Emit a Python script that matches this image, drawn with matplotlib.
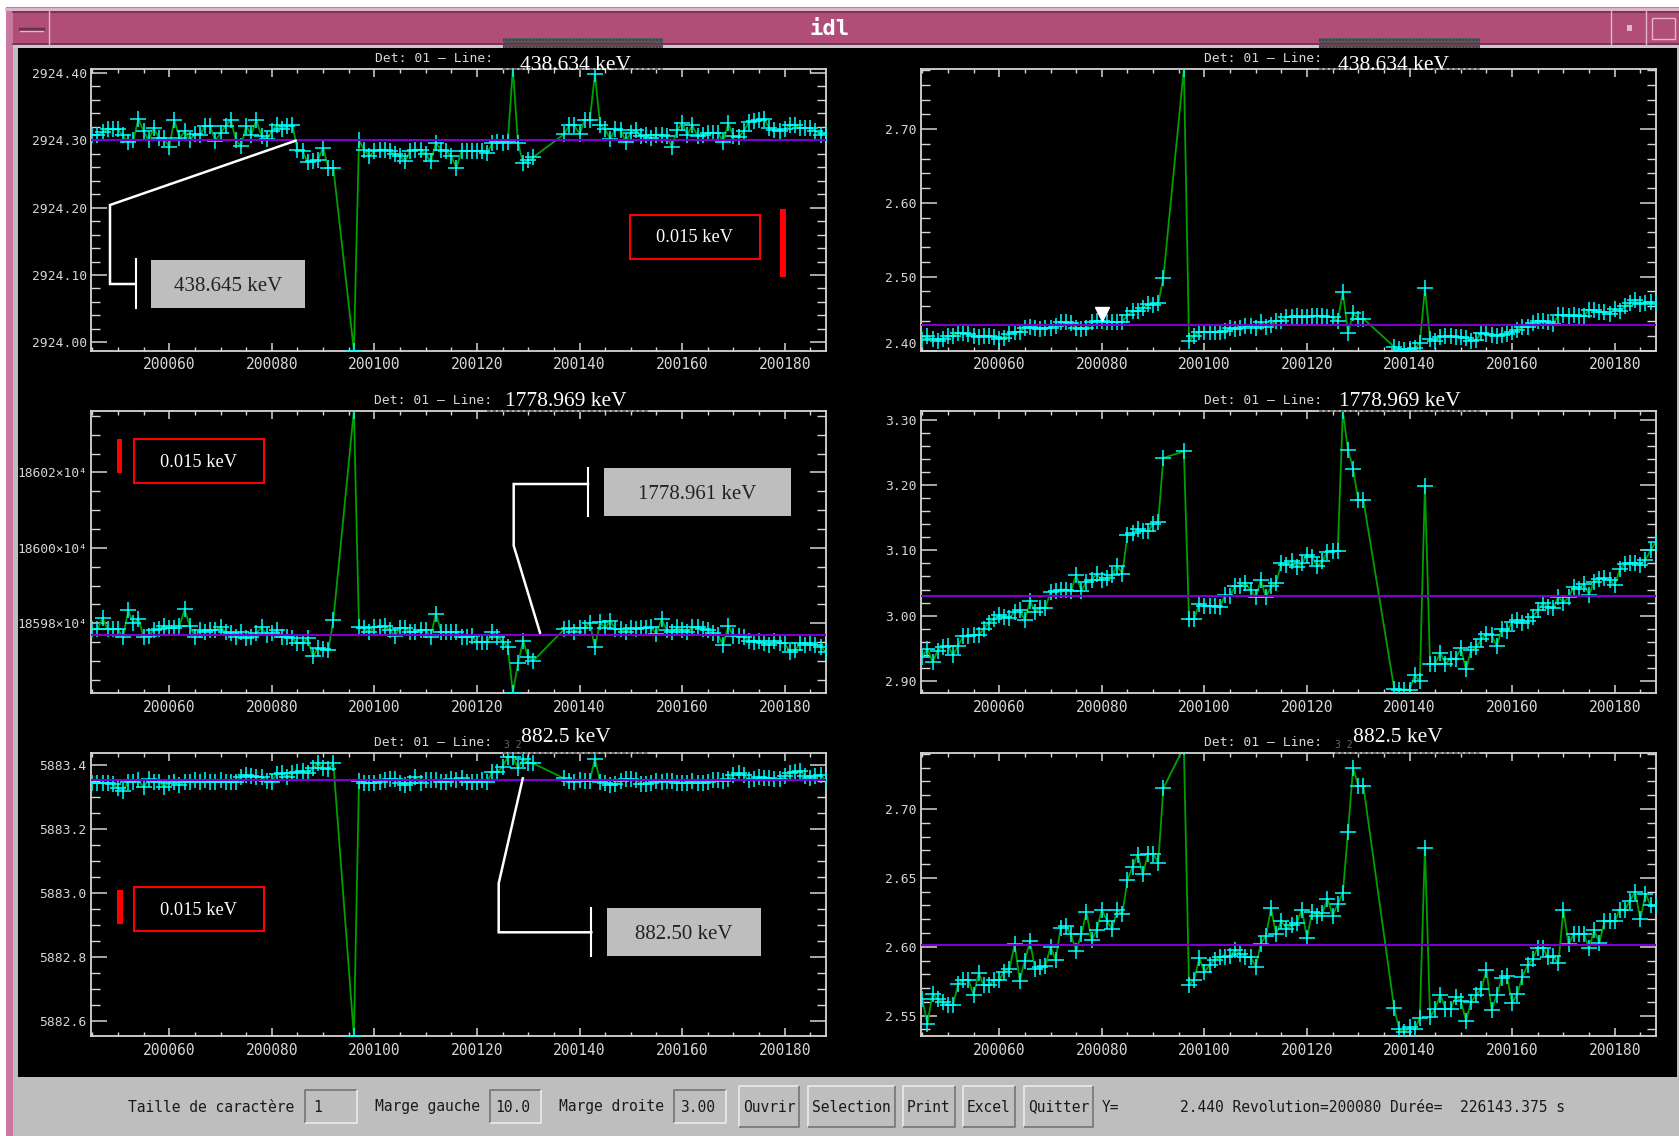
import matplotlib
matplotlib.use('Agg')
import matplotlib.pyplot as plt
from matplotlib.patches import Rectangle
from matplotlib.ticker import MultipleLocator

W, H = 1679, 1136

# Revolutions with a measurement (gaps at 93-95 and 132-136)
revs = list(range(200045, 200093)) + [200096] + list(range(200097, 200132)) + list(range(200137, 200189))

# left column: fitted position
pos_438 = [
    2924.308, 2924.307, 2924.312, 2924.316, 2924.316, 2924.316, 2924.307, 2924.297, 2924.300, 2924.332,
    2924.313, 2924.300, 2924.318, 2924.303, 2924.303, 2924.290, 2924.330, 2924.303, 2924.313, 2924.300,
    2924.309, 2924.308, 2924.321, 2924.321, 2924.299, 2924.311, 2924.321, 2924.330, 2924.300, 2924.291,
    2924.321, 2924.308, 2924.330, 2924.306, 2924.302, 2924.313, 2924.323, 2924.316, 2924.321, 2924.323,
    2924.286, 2924.284, 2924.267, 2924.269, 2924.271, 2924.289, 2924.259, 2924.259,
    2923.988,
    2924.300, 2924.286, 2924.276, 2924.284, 2924.286, 2924.286, 2924.284, 2924.279, 2924.276, 2924.269,
    2924.284, 2924.286, 2924.286, 2924.279, 2924.269, 2924.296, 2924.286, 2924.284, 2924.276, 2924.259,
    2924.284, 2924.284, 2924.284, 2924.284, 2924.284, 2924.281, 2924.296, 2924.297, 2924.296, 2924.298,
    2924.406, 2924.296, 2924.266, 2924.270, 2924.275,
    2924.309, 2924.322, 2924.322, 2924.309, 2924.330, 2924.330, 2924.398, 2924.323, 2924.316, 2924.302,
    2924.316, 2924.315, 2924.298, 2924.311, 2924.315, 2924.306, 2924.307, 2924.303, 2924.307, 2924.308,
    2924.306, 2924.290, 2924.315, 2924.325, 2924.308, 2924.322, 2924.306, 2924.307, 2924.311, 2924.311,
    2924.311, 2924.298, 2924.325, 2924.306, 2924.305, 2924.313, 2924.327, 2924.328, 2924.330, 2924.331,
    2924.318, 2924.315, 2924.313, 2924.316, 2924.322, 2924.322, 2924.318, 2924.318, 2924.318, 2924.313, 2924.308, 2924.311,
]
pos_1778 = [
    18597.84, 18597.84, 18598.13, 18597.84, 18597.84, 18597.84, 18597.63, 18598.34, 18598.00, 18598.11,
    18597.65, 18597.66, 18597.82, 18597.84, 18597.93, 18597.87, 18597.87, 18597.93, 18598.37, 18597.93,
    18597.65, 18597.81, 18597.78, 18597.81, 18597.81, 18597.89, 18597.78, 18597.74, 18597.63, 18597.78,
    18597.60, 18597.63, 18597.74, 18597.89, 18597.69, 18597.74, 18597.81, 18597.65, 18597.65, 18597.60,
    18597.47, 18597.47, 18597.60, 18597.12, 18597.34, 18597.31, 18597.28, 18598.09,
    18603.64,
    18597.89, 18597.87, 18597.76, 18597.89, 18597.91, 18597.93, 18597.82, 18597.66, 18597.87, 18597.87,
    18597.76, 18597.78, 18597.82, 18597.81, 18597.65, 18598.26, 18597.78, 18597.76, 18597.76, 18597.76,
    18597.65, 18597.65, 18597.66, 18597.51, 18597.51, 18597.51, 18597.78, 18597.63, 18597.51, 18597.38,
    18596.16, 18596.94, 18597.54, 18597.10, 18597.01,
    18597.84, 18597.87, 18597.78, 18597.87, 18597.87, 18598.02, 18597.36, 18598.03, 18597.87, 18598.07,
    18597.84, 18597.84, 18597.78, 18597.87, 18597.84, 18597.87, 18597.87, 18597.89, 18597.72, 18598.11,
    18597.81, 18597.76, 18597.89, 18597.81, 18597.76, 18597.89, 18597.89, 18597.84, 18597.82, 18597.74,
    18597.69, 18597.43, 18597.93, 18597.66, 18597.66, 18597.65, 18597.54, 18597.51, 18597.54, 18597.47,
    18597.43, 18597.54, 18597.47, 18597.47, 18597.25, 18597.28, 18597.47, 18597.43, 18597.47, 18597.43, 18597.38, 18597.25,
]
pos_882 = [
    5883.345, 5883.343, 5883.343, 5883.345, 5883.341, 5883.327, 5883.320, 5883.348, 5883.348, 5883.353,
    5883.330, 5883.355, 5883.348, 5883.348, 5883.332, 5883.345, 5883.348, 5883.338, 5883.348, 5883.348,
    5883.353, 5883.348, 5883.353, 5883.348, 5883.348, 5883.353, 5883.348, 5883.348, 5883.348, 5883.364,
    5883.369, 5883.366, 5883.364, 5883.364, 5883.351, 5883.348, 5883.372, 5883.374, 5883.364, 5883.374,
    5883.379, 5883.382, 5883.374, 5883.390, 5883.405, 5883.390, 5883.387, 5883.405,
    5882.554,
    5883.351, 5883.343, 5883.343, 5883.345, 5883.348, 5883.353, 5883.355, 5883.355, 5883.345, 5883.338,
    5883.343, 5883.361, 5883.343, 5883.353, 5883.353, 5883.353, 5883.348, 5883.348, 5883.355, 5883.353,
    5883.358, 5883.348, 5883.348, 5883.348, 5883.353, 5883.348, 5883.379, 5883.379, 5883.395, 5883.425,
    5883.426, 5883.390, 5883.420, 5883.405, 5883.405,
    5883.358, 5883.351, 5883.348, 5883.353, 5883.350, 5883.351, 5883.420, 5883.348, 5883.345, 5883.336,
    5883.340, 5883.350, 5883.355, 5883.355, 5883.352, 5883.342, 5883.342, 5883.345, 5883.350, 5883.348,
    5883.350, 5883.350, 5883.345, 5883.345, 5883.345, 5883.350, 5883.345, 5883.345, 5883.348, 5883.352,
    5883.352, 5883.350, 5883.356, 5883.370, 5883.375, 5883.370, 5883.353, 5883.355, 5883.362, 5883.360,
    5883.358, 5883.355, 5883.355, 5883.365, 5883.376, 5883.378, 5883.382, 5883.365, 5883.360, 5883.365, 5883.368, 5883.352,
]

# right column: fitted width
fwhm_438 = [
    2.4145, 2.419, 2.415, 2.413, 2.416, 2.419, 2.420, 2.424, 2.424, 2.422,
    2.419, 2.418, 2.420, 2.420, 2.418, 2.416, 2.417, 2.423, 2.425, 2.425,
    2.431, 2.432, 2.430, 2.429, 2.430, 2.431, 2.433, 2.438, 2.439, 2.437,
    2.430, 2.429, 2.430, 2.438, 2.440, 2.440, 2.438, 2.439, 2.438, 2.439,
    2.448, 2.453, 2.454, 2.457, 2.463, 2.462, 2.464, 2.4985,
    2.782,
    2.4135, 2.420, 2.425, 2.425, 2.425, 2.425, 2.425, 2.427, 2.430, 2.429,
    2.430, 2.433, 2.433, 2.431, 2.439, 2.432, 2.435, 2.440, 2.440, 2.445,
    2.446, 2.447, 2.445, 2.446, 2.447, 2.447, 2.447, 2.446, 2.445, 2.440,
    2.4797, 2.4234, 2.4505, 2.443, 2.443,
    2.405, 2.402, 2.401, 2.402, 2.403, 2.410, 2.484, 2.415, 2.413, 2.418,
    2.419, 2.419, 2.418, 2.418, 2.417, 2.413, 2.414, 2.424, 2.423, 2.421,
    2.420, 2.421, 2.423, 2.425, 2.428, 2.432, 2.432, 2.437, 2.440, 2.440,
    2.439, 2.436, 2.448, 2.448, 2.447, 2.448, 2.447, 2.447, 2.455, 2.455,
    2.452, 2.452, 2.450, 2.456, 2.453, 2.460, 2.465, 2.468, 2.463, 2.465, 2.466, 2.463,
]
fwhm_1778 = [
    2.937, 2.949, 2.929, 2.946, 2.952, 2.954, 2.939, 2.954, 2.968, 2.968,
    2.970, 2.970, 2.980, 2.989, 2.995, 3.0005, 2.998, 2.997, 3.006, 3.008,
    2.993, 3.0225, 3.006, 3.012, 3.012, 3.036, 3.038, 3.040, 3.040, 3.038,
    3.062, 3.038, 3.052, 3.054, 3.0645, 3.054, 3.058, 3.062, 3.076, 3.0645,
    3.123, 3.126, 3.1325, 3.130, 3.130, 3.140, 3.1437, 3.242,
    3.252,
    2.995, 2.995, 3.018, 3.014, 3.014, 3.014, 3.013, 3.031, 3.030, 3.045,
    3.046, 3.050, 3.039, 3.028, 3.054, 3.028, 3.045, 3.050, 3.080, 3.077,
    3.083, 3.075, 3.080, 3.0925, 3.090, 3.076, 3.083, 3.098, 3.099, 3.099,
    3.314, 3.2537, 3.2255, 3.177, 3.177,
    2.888, 2.8865, 2.8865, 2.8865, 2.9084, 2.899, 3.199, 2.925, 2.926, 2.943,
    2.926, 2.934, 2.934, 2.950, 2.9176, 2.947, 2.951, 2.964, 2.972, 2.970,
    2.953, 2.980, 2.976, 2.990, 2.993, 2.988, 2.992, 2.998, 3.008, 3.020,
    3.013, 3.011, 3.029, 3.020, 3.028, 3.044, 3.041, 3.049, 3.032, 3.052,
    3.056, 3.057, 3.054, 3.0465, 3.071, 3.079, 3.080, 3.081, 3.077, 3.086, 3.100, 3.113,
]
fwhm_882 = [
    2.5623, 2.544, 2.566, 2.562, 2.560, 2.558, 2.558, 2.573, 2.576, 2.576,
    2.565, 2.581, 2.572, 2.572, 2.576, 2.576, 2.582, 2.584, 2.602, 2.5755,
    2.590, 2.604, 2.584, 2.585, 2.586, 2.600, 2.5905, 2.614, 2.615, 2.609,
    2.597, 2.609, 2.625, 2.605, 2.612, 2.627, 2.619, 2.613, 2.627, 2.6235,
    2.6486, 2.658, 2.667, 2.6525, 2.6675, 2.6675, 2.661, 2.715,
    2.745,
    2.5724, 2.576, 2.592, 2.5816, 2.5865, 2.5906, 2.5925, 2.5925, 2.593, 2.598,
    2.5945, 2.5925, 2.5925, 2.5857, 2.602, 2.608, 2.628, 2.609, 2.619, 2.613,
    2.6155, 2.617, 2.627, 2.6065, 2.625, 2.6227, 2.6245, 2.635, 2.6227, 2.631,
    2.639, 2.6836, 2.730, 2.7167, 2.7167,
    2.5555, 2.540, 2.538, 2.5417, 2.540, 2.5485, 2.672, 2.549, 2.555, 2.5654,
    2.555, 2.555, 2.5635, 2.561, 2.5465, 2.560, 2.565, 2.5695, 2.583, 2.554,
    2.565, 2.5775, 2.5785, 2.559, 2.566, 2.578, 2.5865, 2.591, 2.5993, 2.599,
    2.5925, 2.593, 2.588, 2.627, 2.6017, 2.609, 2.6095, 2.609, 2.599, 2.612,
    2.603, 2.6184, 2.6184, 2.6184, 2.627, 2.627, 2.6336, 2.640, 2.620, 2.6385, 2.630, 2.6295,
]

x_ticks = [200060, 200080, 200100, 200120, 200140, 200160, 200180]
x_limits = (200044.75, 200188.05)

# panels: pixel box, data, y range, mean line, y ticks, labels, minor step
panels = [
    dict(box=(91, 68.5, 826, 350.5), y=pos_438, ylim=(2923.988, 2924.4064), mean=2924.301,
         ticks=[2924.0, 2924.1, 2924.2, 2924.3, 2924.4],
         labels=['2924.00', '2924.10', '2924.20', '2924.30', '2924.40'], minor=0.02),
    dict(box=(921, 68.5, 1656, 350.5), y=fwhm_438, ylim=(2.40, 2.782), mean=2.435,
         ticks=[2.4, 2.5, 2.6, 2.7], labels=['2.40', '2.50', '2.60', '2.70'], minor=0.02),
    dict(box=(91, 411, 826, 692.7), y=pos_1778, ylim=(18596.16, 18603.63), mean=18597.69,
         ticks=[18598, 18600, 18602], labels=['18598×10⁴', '18600×10⁴', '18602×10⁴'], minor=0.5),
    dict(box=(921, 411, 1656, 692.7), y=fwhm_1778, ylim=(2.8816, 3.314), mean=3.0307,
         ticks=[2.9, 3.0, 3.1, 3.2, 3.3], labels=['2.90', '3.00', '3.10', '3.20', '3.30'], minor=0.02),
    dict(box=(91, 752.7, 826, 1035.7), y=pos_882, ylim=(5882.554, 5883.4385), mean=5883.354,
         ticks=[5882.6, 5882.8, 5883.0, 5883.2, 5883.4],
         labels=['5882.6', '5882.8', '5883.0', '5883.2', '5883.4'], minor=0.05),
    dict(box=(921, 752.7, 1656, 1035.7), y=fwhm_882, ylim=(2.5355, 2.7409), mean=2.601,
         ticks=[2.55, 2.60, 2.65, 2.70], labels=['2.55', '2.60', '2.65', '2.70'], minor=0.01),
]

MONO = 'DejaVu Sans Mono'
SERIF = 'Liberation Serif'
WIN_GREY = '#BEBEBE'
TICK_COL = '#D6D6D6'

fig = plt.figure(figsize=(W / 100, H / 100), dpi=100, facecolor='white')

# window decoration lives in an axes measured in pixels
bg = fig.add_axes([0, 0, 1, 1], zorder=0)
bg.set_xlim(0, W)
bg.set_ylim(H, 0)
bg.axis('off')


def rect(ax, x0, y0, x1, y1, **kw):
    kw.setdefault('linewidth', 0)
    ax.add_patch(Rectangle((x0, y0), x1 - x0, y1 - y0, **kw))


def bevel(ax, x0, y0, x1, y1, raised=True):
    light, dark = ('#E6E6E6', '#7A7A7A') if raised else ('#7A7A7A', '#E6E6E6')
    ax.plot([x0, x0, x1], [y1, y0, y0], color=light, lw=1.3, solid_capstyle='butt')
    ax.plot([x0, x1, x1], [y1, y1, y0], color=dark, lw=1.3, solid_capstyle='butt')


rect(bg, 6, 7, W, H, facecolor='#C9799F')
rect(bg, 13, 11, W, H, facecolor=WIN_GREY)
rect(bg, 13, 11, W, 44.5, facecolor='#B04E78')
rect(bg, 13, 44.5, W, 48, facecolor='#C8C8C8')
rect(bg, 17.7, 48, 1677, 1076.7, facecolor='black')
bg.plot([6, W], [9, 9], color='#E5B5CC', lw=2)
bg.plot([13, W], [12, 12], color='#6E3050', lw=1.2)
bg.plot([13, W], [44, 44], color='#6E3050', lw=1.2)

# title bar buttons
for bx in [48.5, 1611, 1646]:
    bg.plot([bx, bx], [11, 44], color='#E5B5CC', lw=1)
bg.plot([20, 43], [29, 29], color='#6E3050', lw=2.5)
bg.plot([20, 43], [31, 31], color='#E5B5CC', lw=1)
rect(bg, 1652, 18, 1675, 39, facecolor='none', edgecolor='#E5B5CC', linewidth=1)
rect(bg, 1627, 25, 1632, 31, facecolor='#E5B5CC')
bg.text(830, 29, 'idl', color='white', fontsize=16, fontweight='bold', family=MONO, ha='center', va='center')

# dithered strips left behind in the screenshot
for sx0, sx1 in [(503, 663), (1319, 1480)]:
    rect(bg, sx0, 38, sx1, 48, facecolor='#5A5A5A', hatch='.....', edgecolor='#3A3A3A')

# bottom widgets
text_y = 1107
for x0, x1 in [(305, 357), (490, 541), (674, 726)]:
    bevel(bg, x0, 1090, x1, 1123, raised=False)
for x0, x1, name in [(739, 799, 'Ouvrir'), (808, 895, 'Selection'), (903, 955, 'Print'),
                     (963, 1015, 'Excel'), (1023.7, 1093, 'Quitter')]:
    bevel(bg, x0, 1086, x1, 1127)
    bg.text((x0 + x1) / 2, text_y, name, family=MONO, fontsize=10.5, color='#1A1A1A', ha='center', va='center')
for tx, name in [(128.5, 'Taille de caractère'), (313, '1'), (375, 'Marge gauche'), (495, '10.0'),
                 (559, 'Marge droite'), (680, '3.00'), (1102, 'Y='),
                 (1180, '2.440 Revolution=200080 Durée=  226143.375 s')]:
    bg.text(tx, text_y, name, family=MONO, fontsize=10.5, color='#1A1A1A', ha='left', va='center')

# the six panels
for p in panels:
    x0, y0, x1, y1 = p['box']
    ax = fig.add_axes([x0 / W, 1 - y1 / H, (x1 - x0) / W, (y1 - y0) / H], zorder=2, facecolor='black')
    ax.plot(revs, p['y'], color='#00A000', lw=1.3, zorder=2)
    ax.plot(revs, p['y'], ls='none', marker='+', ms=12, mew=1.1, color='#00FFFF', zorder=3)
    ax.axhline(p['mean'], color='#7A00D2', lw=1.5, zorder=4)
    ax.set_xlim(*x_limits)
    ax.set_ylim(*p['ylim'])
    ax.set_xticks(x_ticks)
    ax.set_xticklabels([str(t) for t in x_ticks], family=MONO, fontsize=10.5, color=TICK_COL)
    ax.set_yticks(p['ticks'])
    label_size = 9.3 if '×' in p['labels'][0] else 9.4
    ax.set_yticklabels(p['labels'], family=MONO, fontsize=label_size, color=TICK_COL)
    ax.xaxis.set_minor_locator(MultipleLocator(5))
    ax.yaxis.set_minor_locator(MultipleLocator(p['minor']))
    ax.tick_params(axis='x', which='major', direction='in', top=True, length=5.8, width=1.1, color=TICK_COL, pad=5)
    ax.tick_params(axis='x', which='minor', direction='in', top=True, length=2.6, width=1, color=TICK_COL)
    ax.tick_params(axis='y', which='major', direction='in', right=True, length=11.5, width=1.1, color=TICK_COL, pad=3)
    ax.tick_params(axis='y', which='minor', direction='in', right=True, length=6.5, width=1, color=TICK_COL)
    for s in ax.spines.values():
        s.set_color(TICK_COL)
        s.set_linewidth(1.3)
    if p['y'] is fwhm_438:
        # cursor position shown in the status line
        ax.plot([200080], [2.449], marker='v', ms=10.5, color='white', ls='none', zorder=6)
        ax.get_yticklabels()[0].set_va('bottom')

# hand-added annotations over the screenshot
over = fig.add_axes([0, 0, 1, 1], zorder=5)
over.set_xlim(0, W)
over.set_ylim(H, 0)
over.axis('off')
over.patch.set_alpha(0)

# title fragments: x of plot title, x of typed energy, y of each
titles = [
    (434, 59, 576, 65, '438.634 keV'),
    (1263, 59, 1393, 65, '438.634 keV'),
    (433, 400.7, 566, 401, '1778.969 keV'),
    (1263, 400.7, 1400, 401, '1778.969 keV'),
    (433, 743, 566, 738, '882.5 keV'),
    (1263, 743, 1398, 738, '882.5 keV'),
]
for tx, ty, ex, ey, energy in titles:
    over.text(tx, ty, 'Det: 01 — Line:', family=MONO, fontsize=9.4, color=TICK_COL, ha='center', va='center')
    over.text(ex, ey, energy, family=SERIF, fontsize=15.5, color='white', ha='center', va='center')
for rx in [513, 1344]:
    over.text(rx, 745, '3 2', family=MONO, fontsize=7, color='#666666', ha='center', va='center')
for sx0, sx1, sy in [(503, 663, 68.5), (1319, 1480, 68.5), (487, 648, 411), (1319, 1480, 411),
                     (503, 648, 752.7), (1335, 1480, 752.7)]:
    over.plot([sx0, sx1], [sy, sy], color='#666666', lw=1.3, ls=(0, (2, 1)))

# red scale boxes: bar (x0, y0, x1, y1), box, label centre
scale_marks = [
    ((780, 209, 786, 277), (630, 214.7, 759.5, 259), (694, 238)),
    ((117, 439, 122, 472.7), (134.4, 438.7, 263.5, 483.3), (199, 462.5)),
    ((117, 890, 123, 923.7), (134.4, 886.7, 263.5, 931.3), (199, 910.5)),
]
for bar, box, centre in scale_marks:
    rect(over, bar[0], bar[1], bar[2], bar[3], facecolor='#FF0000')
    rect(over, box[0], box[1], box[2], box[3], facecolor='black', edgecolor='#FF0000', linewidth=1.5)
    over.text(centre[0], centre[1], '0.015 keV', family=SERIF, fontsize=13.2, color='white', ha='center', va='center')

# grey callouts: leader line, end bar, box, text
callouts = [
    ([295.6, 110, 110, 135.5], [140.7, 205, 284, 284], (135.5, 259.3, 307.7), (151, 260, 305, 307.7), '438.645 keV'),
    ([540, 513.7, 513.7, 588], [632.7, 545.7, 484, 484], (588, 468.3, 516), (603.6, 468, 791, 516), '1778.961 keV'),
    ([522.8, 498.7, 498.7, 591.3], [778.3, 883.3, 932.3, 932.3], (591.3, 907.7, 956), (607, 908, 760.6, 956), '882.50 keV'),
]
for lx, ly, end, box, name in callouts:
    over.plot(lx, ly, color='white', lw=1.8, solid_joinstyle='miter')
    over.plot([end[0], end[0]], [end[1], end[2]], color='white', lw=1.5)
    rect(over, box[0], box[1], box[2], box[3], facecolor='#BEBEBE')
    over.text((box[0] + box[2]) / 2, (box[1] + box[3]) / 2 + 2.5, name, family=SERIF, fontsize=15, color='#222222',
              ha='center', va='center')

fig.savefig('out.png', dpi=100, facecolor=fig.get_facecolor())
plt.close(fig)
